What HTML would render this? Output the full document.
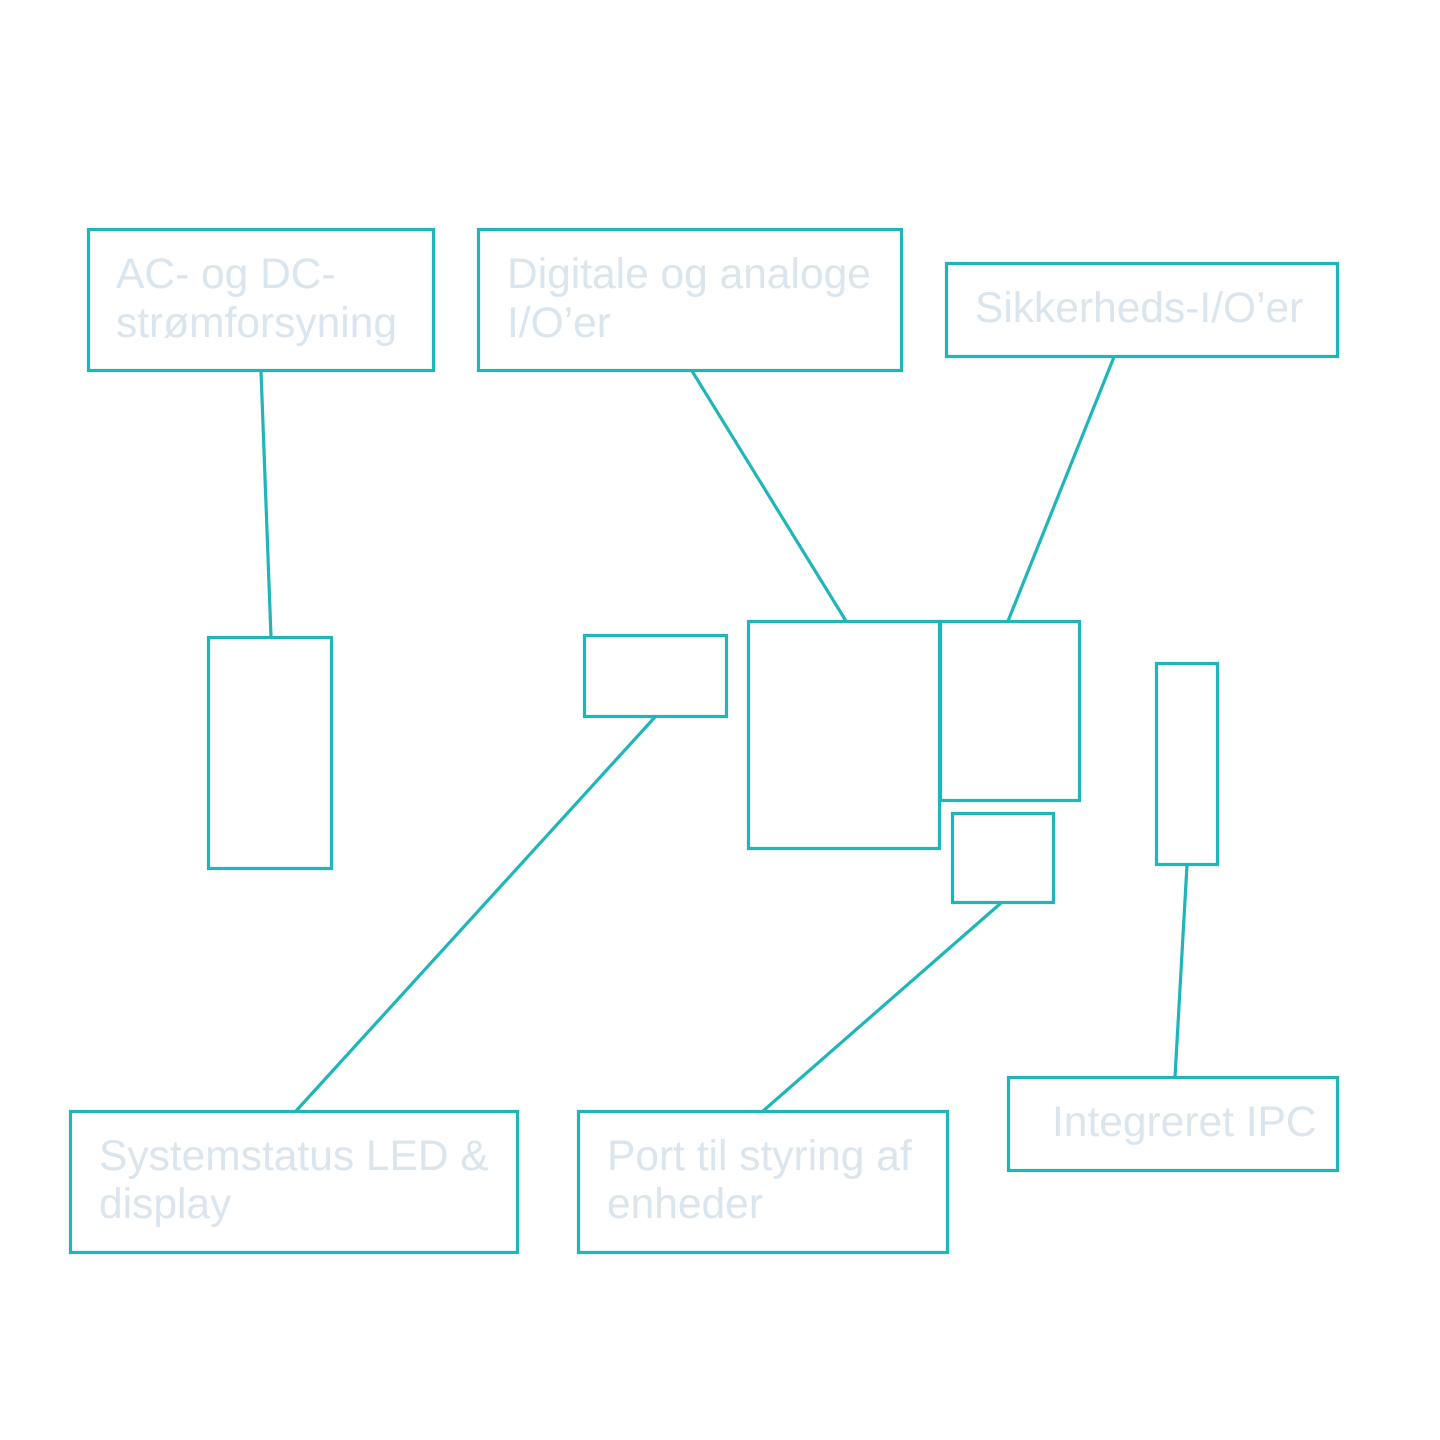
<!DOCTYPE html>
<html>
<head>
<meta charset="utf-8">
<style>
html,body{margin:0;padding:0;background:#fff;}
svg{display:block;}
text{font-family:"Liberation Sans",Arial,sans-serif;font-size:42.5px;fill:#dbe5ee;}
</style>
</head>
<body>
<svg width="1440" height="1440" viewBox="0 0 1440 1440" xmlns="http://www.w3.org/2000/svg">
<g fill="none" stroke="#1fb5b9" stroke-width="3.2">
  <!-- connectors -->
  <line x1="261" y1="371" x2="271" y2="637"/>
  <line x1="692" y1="371" x2="846" y2="621"/>
  <line x1="1114" y1="357" x2="1008" y2="621"/>
  <line x1="655" y1="717" x2="296" y2="1111"/>
  <line x1="1001" y1="903" x2="763" y2="1111"/>
  <line x1="1187" y1="865" x2="1175" y2="1077"/>
  <!-- label boxes -->
  <rect x="88.5" y="229.5" width="345" height="141"/>
  <rect x="478.5" y="229.5" width="423" height="141"/>
  <rect x="946.5" y="263.5" width="391" height="93"/>
  <rect x="70.5" y="1111.5" width="447" height="141"/>
  <rect x="578.5" y="1111.5" width="369" height="141"/>
  <rect x="1008.5" y="1077.5" width="329" height="93"/>
  <!-- device parts -->
  <rect x="208.5" y="637.5" width="123" height="231"/>
  <rect x="584.5" y="635.5" width="142" height="81"/>
  <rect x="748.5" y="621.5" width="191" height="227"/>
  <rect x="940.5" y="621.5" width="139" height="179"/>
  <rect x="952.5" y="813.5" width="101" height="89"/>
  <rect x="1156.5" y="663.5" width="61" height="201"/>
</g>
<text x="116" y="288">AC- og DC-</text>
<text x="116" y="337">strømforsyning</text>
<text x="507" y="288">Digitale og analoge</text>
<text x="507" y="337">I/O’er</text>
<text x="975" y="322">Sikkerheds-I/O’er</text>
<text x="99" y="1170">Systemstatus LED &amp;</text>
<text x="99" y="1218">display</text>
<text x="607" y="1170">Port til styring af</text>
<text x="607" y="1218">enheder</text>
<text x="1052" y="1136">Integreret IPC</text>
</svg>
</body>
</html>
